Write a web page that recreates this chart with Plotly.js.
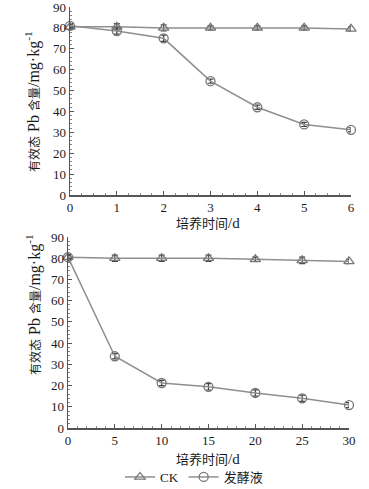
<!DOCTYPE html>
<html><head><meta charset="utf-8">
<script src="https://cdn.plot.ly/plotly-3.0.1.min.js"></script>
<style>body{margin:0;background:#fff}#c{width:369px;height:489px}</style>
</head><body><div id="c"></div>
<script>
const daysShort = [0,1,2,3,4,5,6];
const ckShort = [80.5,80.5,80,80,80,80,79.5];
const ckShortErr = [1,1.5,1.5,1,1,1,1];
const fermShort = [81,78.5,75,54.5,42,33.8,31.2];
const fermShortErr = [1,1.5,1.5,1,1,1,1];

const daysLong = [0,5,10,15,20,25,30];
const ckLong = [80.5,80,80,80,79.5,79,78.5];
const ckLongErr = [1.5,1.5,1.5,1.5,1,1.5,1];
const fermLong = [80.5,33.8,21.2,19.4,16.5,14,10.8];
const fermLongErr = [1,1.2,1.2,1.5,1.5,1.5,1.2];

const yTitle = '有效态<span style="font-size:16px"> Pb </span>含量<span style="font-size:16px">/mg·kg<sup>-1</sup></span>';
const xTitle = '培养时间<span style="font-size:15px">/d</span>';
const names = ['CK','发酵液'];

const gray = '#8f8f8f';
const FONT = '"Liberation Serif","Noto Sans CJK SC",serif';

// plot area in pixels
const L = 68, R = 18, T = 7, B = 61;
const W = 369 - L - R, H = 489 - T - B;
const px = v => (v - L) / W;
const py = v => (489 - B - v) / H;

function tr(x,y,e,name,sym,xa,ya,show){
  return {x:x,y:y,name:name,type:'scatter',mode:'lines+markers',xaxis:xa,yaxis:ya,
    showlegend:show,cliponaxis:false,
    line:{color:gray,width:1.5},
    marker:{symbol:sym,size:9,color:'#777',line:{color:'#777',width:1.3}},
    error_y:{type:'data',array:e,visible:true,color:'#444',thickness:1.2,width:3}};
}
const data = [
  tr(daysShort,ckShort,ckShortErr,names[0],'triangle-up-open','x','y',false),
  tr(daysShort,fermShort,fermShortErr,names[1],'circle-open','x','y',false),
  tr(daysLong,ckLong,ckLongErr,names[0],'triangle-up-open','x2','y2',true),
  tr(daysLong,fermLong,fermLongErr,names[1],'circle-open','x2','y2',true)
];
const ax = {showline:true,linecolor:'#555',linewidth:1.5,ticks:'inside',ticklen:4,tickcolor:'#555',tickwidth:1,
  showgrid:false,zeroline:false,tickfont:{family:FONT,size:13,color:'#1a1a1a'},automargin:false,ticklabeloverflow:'allow'};
const mn = d => ({ticks:'inside',ticklen:2,dtick:d,tickcolor:'#888',tickwidth:1});
const ann = (t,x,y,ang,s) => ({text:t,xref:'paper',yref:'paper',x:px(x),y:py(y),xanchor:'center',yanchor:'middle',
  textangle:ang,showarrow:false,font:{size:s,family:FONT,color:'#1a1a1a'}});
const layout = {
  width:369,height:489,margin:{l:L,r:R,t:T,b:B,autoexpand:false},paper_bgcolor:'#fff',plot_bgcolor:'#fff',
  font:{family:FONT,color:'#1a1a1a'},
  xaxis:Object.assign({},ax,{domain:[px(70),px(351)],range:[0,6],dtick:1,anchor:'y',minor:mn(0.25)}),
  yaxis:Object.assign({},ax,{domain:[py(195),py(7)],range:[0,90],dtick:10,anchor:'x',minor:mn(2)}),
  xaxis2:Object.assign({},ax,{domain:[px(68),px(349)],range:[0,30],dtick:5,anchor:'y2',minor:mn(1)}),
  yaxis2:Object.assign({},ax,{domain:[py(428),py(237)],range:[0,90],dtick:10,anchor:'x2',minor:mn(2)}),
  showlegend:true,
  legend:{orientation:'h',x:px(194),xanchor:'center',y:py(477),yanchor:'middle',font:{family:FONT,size:13,color:'#1a1a1a'},bgcolor:'rgba(0,0,0,0)'},
  annotations:[
    ann(yTitle,33,102,-90,12),
    ann(yTitle,33,305,-90,12),
    ann(xTitle,208,223,0,13),
    ann(xTitle,208,459,0,13)
  ]
};
Plotly.newPlot('c',data,layout,{displayModeBar:false,staticPlot:true});
</script></body></html>
